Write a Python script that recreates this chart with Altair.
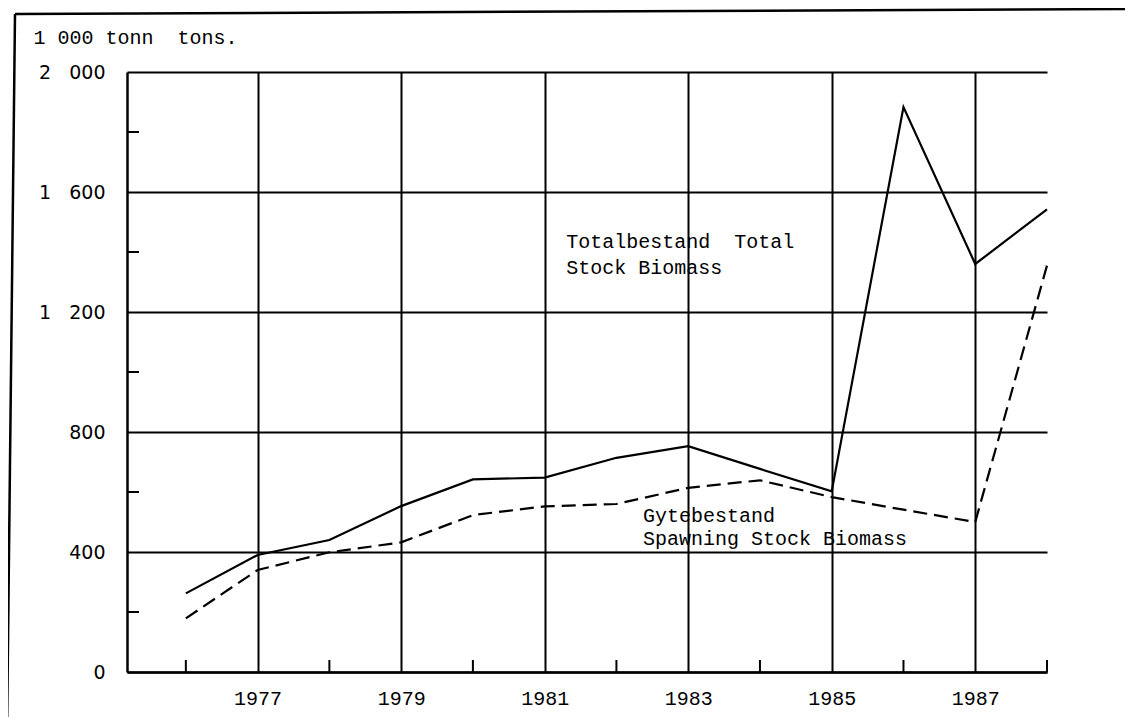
import altair as alt
import pandas as pd

# ---- data ----
years = [1976, 1977, 1978, 1979, 1980, 1981, 1982, 1983, 1984, 1985, 1986, 1987, 1988]
total_biomass = [262, 390, 440, 553, 642, 648, 714, 753, 677, 602, 1883, 1360, 1542]
spawning_biomass = [179, 340, 399, 432, 523, 552, 560, 614, 639, 583, 541, 500, 1355]

labeled_years = [1977, 1979, 1981, 1983, 1985, 1987]
minor_year_ticks = [1976, 1978, 1980, 1982, 1984, 1986, 1988]
y_gridlines = [0, 400, 800, 1200, 1600, 2000]
y_minor_ticks = [200, 600, 1000, 1400, 1800]

unit_label = "1 000 tonn\u00a0 tons."
total_label = ["Totalbestand\u00a0 Total", "Stock Biomass"]
spawning_label = ["Gytebestand", "Spawning Stock Biomass"]

total_df = pd.DataFrame({"year": years, "value": total_biomass})
spawn_df = pd.DataFrame({"year": years, "value": spawning_biomass})
minor_x_df = pd.DataFrame({"year": minor_year_ticks})
minor_y_df = pd.DataFrame({"value": y_minor_ticks})
one_row = pd.DataFrame({"k": [0]})

W, H = 920, 600
xscale = alt.Scale(domain=[1975.18, 1988], nice=False, zero=False)
yscale = alt.Scale(domain=[0, 2000], nice=False, zero=True)

gap = "\u00a0\u00a0\u00a0"
x_axis = alt.Axis(
    values=labeled_years, format="d", grid=True, gridColor="black", gridWidth=2,
    gridOpacity=1, ticks=False, domain=True, domainColor="black", domainWidth=2.5,
    labelFont="Liberation Mono", labelFontSize=20, labelColor="black",
    labelPadding=16, labelFlush=False, labelOverlap=False, title=None,
)
y_axis = alt.Axis(
    values=y_gridlines, grid=True, gridColor="black", gridWidth=2, gridOpacity=1,
    ticks=False, domain=True, domainColor="black", domainWidth=2.5,
    labelExpr="datum.value >= 1000 ? floor(datum.value / 1000) + '" + gap + "' + format(datum.value % 1000, '03d') : format(datum.value, 'd')",
    labelFont="DejaVu Sans", labelFontSize=19, labelColor="black", labelPadding=22,
    labelFlush=False, labelOverlap=False,
    title=unit_label, titleAngle=0, titleX=-94, titleY=-29, titleAlign="left",
    titleBaseline="alphabetic", titleFont="Liberation Mono", titleFontSize=20,
    titleFontWeight="normal", titleColor="black",
)

total_line = alt.Chart(total_df).mark_line(color="black", strokeWidth=2.2).encode(
    x=alt.X("year:Q", scale=xscale, axis=x_axis),
    y=alt.Y("value:Q", scale=yscale, axis=y_axis),
)
spawn_line = alt.Chart(spawn_df).mark_line(color="black", strokeWidth=2.2, strokeDash=[14, 7]).encode(
    x=alt.X("year:Q", scale=xscale, axis=x_axis),
    y=alt.Y("value:Q", scale=yscale, axis=y_axis),
)

x_minor = alt.Chart(minor_x_df).mark_rule(color="black", strokeWidth=2).encode(
    x=alt.X("year:Q", scale=xscale, axis=x_axis),
    y=alt.value(H),
    y2=alt.value(H - 12),
)
y_minor = alt.Chart(minor_y_df).mark_rule(color="black", strokeWidth=2).encode(
    y=alt.Y("value:Q", scale=yscale, axis=y_axis),
    x=alt.value(0),
    x2=alt.value(12),
)

frame_left = alt.Chart(one_row).mark_rule(color="black", strokeWidth=2.5).encode(
    x=alt.value(-112), y=alt.value(-58), x2=alt.value(-120), y2=alt.value(H + 60),
)
frame_top = alt.Chart(one_row).mark_rule(color="black", strokeWidth=2.5).encode(
    x=alt.value(-112), y=alt.value(-58), x2=alt.value(1010), y2=alt.value(-63),
)

total_text = alt.Chart(one_row).mark_text(
    align="left", baseline="alphabetic", font="Liberation Mono", fontSize=20,
    lineHeight=26, color="black",
).encode(
    x=alt.X(datum=1981.30, scale=xscale, axis=x_axis),
    y=alt.Y(datum=1413, scale=yscale, axis=y_axis),
    text=alt.value(total_label),
)
spawn_text = alt.Chart(one_row).mark_text(
    align="left", baseline="alphabetic", font="Liberation Mono", fontSize=20,
    lineHeight=23, color="black",
).encode(
    x=alt.X(datum=1982.37, scale=xscale, axis=x_axis),
    y=alt.Y(datum=500, scale=yscale, axis=y_axis),
    text=alt.value(spawning_label),
)

chart = alt.layer(
    total_line, spawn_line, x_minor, y_minor, frame_left, frame_top, total_text, spawn_text
).properties(
    width=W, height=H,
    autosize=alt.AutoSizeParams(type="none"),
    padding={"left": 119, "top": 64, "right": 78, "bottom": 45},
).configure_view(stroke=None)

chart.save("out.html", embed_options={"renderer": "svg", "actions": False})
